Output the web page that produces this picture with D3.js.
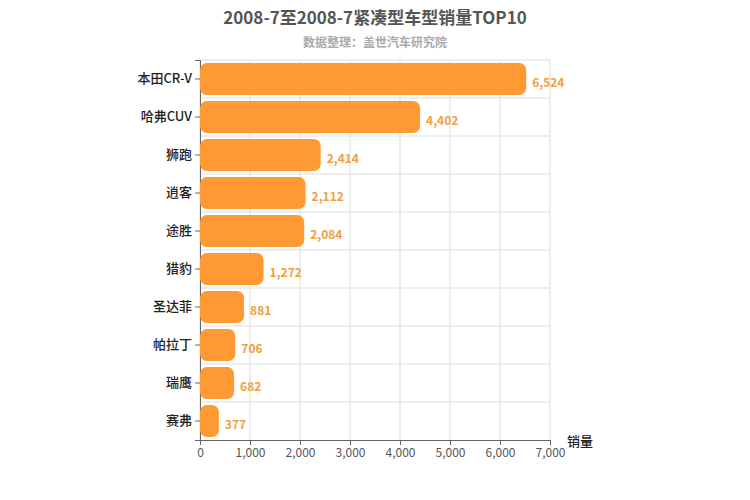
<!DOCTYPE html><html><head><meta charset="utf-8"><script src="https://cdn.jsdelivr.net/npm/d3@7"></script>
<style>body{margin:0;background:#fff}text{font-family:"Noto Sans CJK SC","Noto Sans",sans-serif}</style></head><body>
<svg id="c" width="750" height="500"></svg>
<script>
const categories=["本田CR-V","哈弗CUV","狮跑","逍客","途胜","猎豹","圣达菲","帕拉丁","瑞鹰","赛弗"];
const values=[6524,4402,2414,2112,2084,1272,881,706,682,377];
const xTicks=[0,1000,2000,3000,4000,5000,6000,7000];
const svg=d3.select("#c");
const L=200,R=550,T=60,B=440;
const x=d3.scaleLinear().domain([0,7000]).range([L,R]);
const y=d3.scaleBand().domain(categories).range([T,B]).paddingInner(0.16).paddingOuter(0.08);
const yb=d3.scaleBand().domain(categories).range([T,B]);
svg.append("text").attr("x",375).attr("y",24).attr("text-anchor","middle").attr("font-size",17).attr("font-weight","bold").attr("fill","#555").text("2008-7至2008-7紧凑型车型销量TOP10");
svg.append("text").attr("x",375).attr("y",47).attr("text-anchor","middle").attr("font-size",12).attr("font-weight","bold").attr("fill","#aaa").text("数据整理：盖世汽车研究院");
const g=svg.append("g");
xTicks.forEach(t=>g.append("line").attr("x1",x(t)).attr("x2",x(t)).attr("y1",T).attr("y2",B).attr("stroke","#ddd"));
categories.forEach(c=>g.append("line").attr("x1",L).attr("x2",R).attr("y1",yb(c)).attr("y2",yb(c)).attr("stroke","#ddd"));
const xa=svg.append("g").attr("transform",`translate(0,${B})`).call(d3.axisBottom(x).tickValues(xTicks).tickFormat(d3.format(",")).tickSize(5));
xa.selectAll("text").attr("font-size",12).attr("fill","#555");xa.selectAll("line,path").attr("stroke","#666");
const ya=svg.append("g").attr("transform",`translate(${L},0)`).call(d3.axisLeft(yb).tickSize(5));
ya.selectAll("text").attr("font-size",13).attr("font-weight","500").attr("fill","#222");ya.selectAll("line,path").attr("stroke","#666");
svg.selectAll(".bar").data(values).enter().append("rect").attr("x",L).attr("y",(d,i)=>y(categories[i])).attr("width",d=>x(d)-L).attr("height",y.bandwidth()).attr("rx",7).attr("fill","#ff9933");
svg.selectAll(".lab").data(values).enter().append("text").attr("x",d=>x(d)+6).attr("y",(d,i)=>y(categories[i])+y.bandwidth()/2+8).attr("font-size",12).attr("font-weight","bold").attr("fill","#f0a040").text(d=>d3.format(",")(d));
svg.append("text").attr("x",580).attr("y",446).attr("text-anchor","middle").attr("font-size",13).attr("font-weight","500").attr("fill","#222").text("销量");
</script></body></html>
